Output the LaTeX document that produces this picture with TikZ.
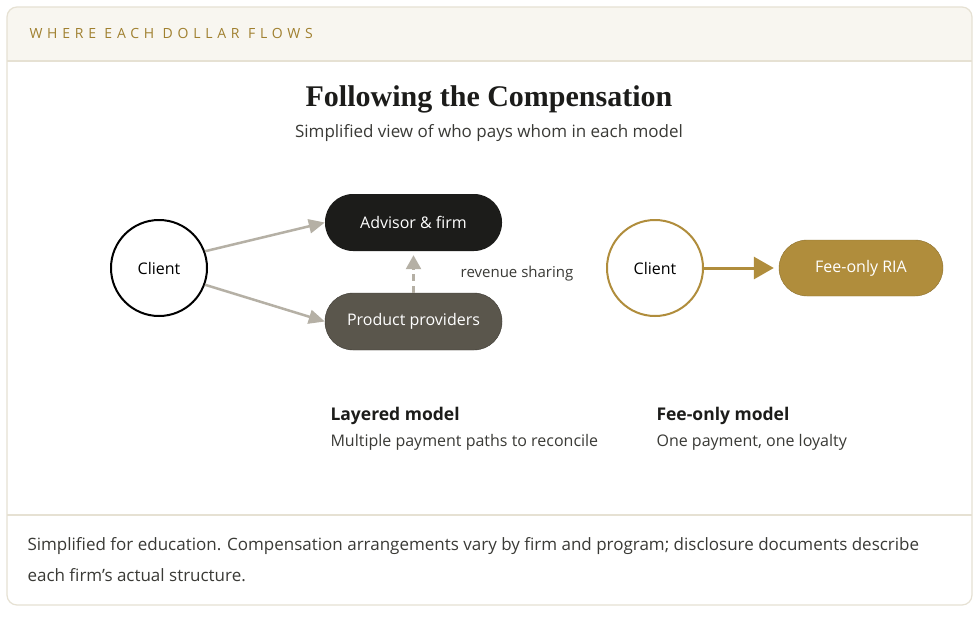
\documentclass[tikz,border=0pt]{standalone}
\usepackage{fontspec}
\setmainfont{Open Sans}
\newfontfamily\titlefont{Liberation Serif}
\usetikzlibrary{arrows.meta}
\definecolor{gold}{HTML}{B08D3C}
\definecolor{goldtxt}{HTML}{A0802F}
\definecolor{edge}{HTML}{E6E1D3}
\definecolor{hdr}{HTML}{F8F6F0}
\definecolor{arr}{HTML}{B5B0A5}
\definecolor{dark}{HTML}{1C1C1A}
\definecolor{prov}{HTML}{5A564C}
\definecolor{txt}{HTML}{3A3A36}
\begin{document}
\begin{tikzpicture}[x=1pt,y=-1pt,
  pill/.style={rounded corners=28pt,minimum width=177pt,minimum height=57pt,text=white,font=\fontsize{16}{19}\selectfont},
  circ/.style={circle,line width=2pt,minimum size=96pt,fill=white,font=\fontsize{16}{19}\selectfont},
  flow/.style={arr,line width=2.5pt,-{Triangle[length=16pt,width=14pt]}},
  lbl/.style={anchor=west,font=\fontsize{16}{19}\selectfont,text=txt}]
\useasboundingbox (0,0) rectangle (980,619);
\fill[white] (0,0) rectangle (980,619);
\begin{scope}
\clip[rounded corners=10pt] (7,7) rectangle (972,605);
\fill[hdr] (7,7) rectangle (972,61);
\end{scope}
\draw[edge,line width=1.2pt,rounded corners=10pt] (7,7) rectangle (972,605);
\draw[edge,line width=1.2pt] (7,61) -- (972,61);
\draw[edge,line width=1.2pt] (7,515) -- (972,515);
\node[anchor=west,text=goldtxt,font=\fontsize{14}{16}\selectfont\addfontfeatures{LetterSpace=34}] (hd) at (26,33) {WHERE EACH DOLLAR FLOWS};
\node[font=\titlefont\bfseries\fontsize{30}{34}\selectfont,text=dark] (title) at (489,99) {Following the Compensation};
\node[font=\fontsize{17}{20}\selectfont,text=txt] (sub) at (489,133) {Simplified view of who pays whom in each model};
\node[circ,draw=black] (c1) at (159,268) {Client};
\node[pill,fill=dark] (af) at (413.5,222.5) {Advisor \& firm};
\node[pill,fill=prov,draw=prov!70!black] (pp) at (413.5,321.5) {Product providers};
\draw[flow] (c1.20) -- (af.west);
\draw[flow] (c1.-20) -- (pp.west);
\draw[arr,line width=2.5pt,dash pattern=on 7pt off 5pt,-{Triangle[length=14pt,width=15pt]}] (pp.north) -- ([yshift=-4pt]af.south);
\node[font=\fontsize{15}{18}\selectfont,text=txt] (rs) at (517,274) {revenue sharing};
\node[circ,draw=gold] (c2) at (655,268) {Client};
\node[pill,fill=gold,draw=gold!80!black,minimum width=164pt,minimum height=56pt] (ria) at (861,268) {Fee-only RIA};
\draw[gold,line width=3pt,-{Triangle[length=20pt,width=22pt]}] (c2) -- ([xshift=-5pt]ria.west);
\node[lbl,font=\bfseries\fontsize{17.5}{20}\selectfont,text=dark] (lm) at (327,416) {Layered model};
\node[lbl] (lmd) at (327,442) {Multiple payment paths to reconcile};
\node[lbl,font=\bfseries\fontsize{17.5}{20}\selectfont,text=dark] (fm) at (653,416) {Fee-only model};
\node[lbl] (fmd) at (653,442) {One payment, one loyalty};
\node[lbl,font=\fontsize{17}{20}\selectfont] (f1) at (24,546) {Simplified for education. Compensation arrangements vary by firm and program; disclosure documents describe};
\node[lbl,font=\fontsize{17}{20}\selectfont] (f2) at (24,575) {each firm’s actual structure.};
\end{tikzpicture}
\end{document}
